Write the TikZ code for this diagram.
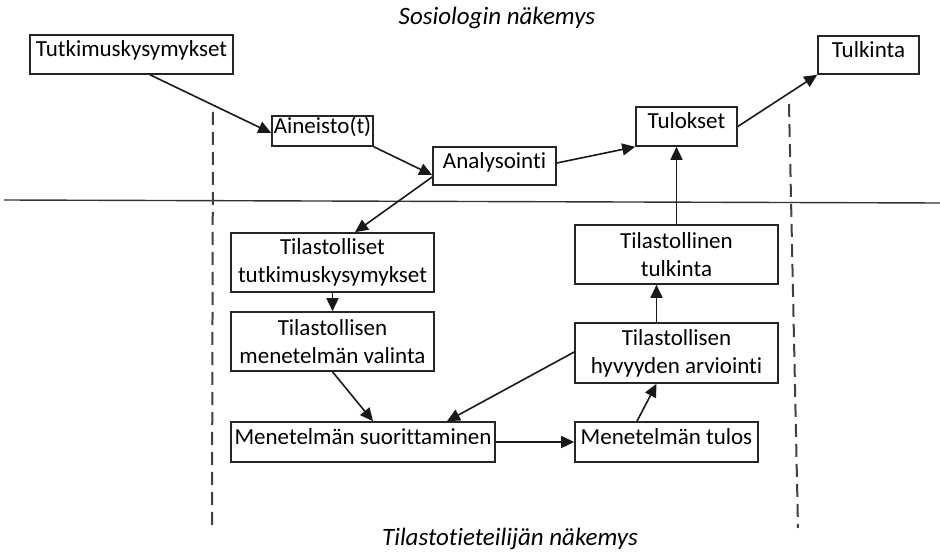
\documentclass[tikz,border=0pt]{standalone}
\usepackage{fontspec}
\setmainfont{Carlito}[Ligatures={NoCommon}]
\usetikzlibrary{arrows.meta,calc}
\begin{document}
\begin{tikzpicture}[x=1pt,y=-1pt,
  box/.style={draw=black!85, line width=1.6pt, inner sep=0pt, align=center,
    font=\fontsize{23}{28}\selectfont},
  oneline/.style={text height=13pt, text depth=8pt},
  link/.style={line width=1.6pt, draw=black!90,
    -{Triangle[length=13pt,width=12pt]}},
  divider/.style={line width=1.4pt, draw=black!80},
  viewline/.style={line width=2pt, draw=black!75, dash pattern=on 13pt off 7pt},
  heading/.style={font=\fontsize{25}{28}\selectfont\itshape}
]
\useasboundingbox (0,0) rectangle (940,553);

% viewpoint labels
\node[heading] (soc) at (497,18) {Sosiologin näkemys};
\node[heading] (stat) at (510,539) {Tilastotieteilijän näkemys};

% separators
\coordinate (hl) at (4,200);
\coordinate (hr) at (940,203);
\draw[divider] (hl) -- (hr);
\coordinate (dlt) at (213,112);
\coordinate (dlb) at (212,525);
\coordinate (drt) at (789,104);
\coordinate (drb) at (798,528);
\draw[viewline] (dlt) -- (dlb);
\draw[viewline] (drt) -- (drb);

% sociological process
\node[box, oneline, minimum width=203, minimum height=39] (tk)  at (131.5,54.5) {Tutkimuskysymykset};
\node[box, oneline, minimum width=101, minimum height=30] (ain) at (322.5,131) {Aineisto(t)};
\node[box, oneline, minimum width=123, minimum height=38] (ana) at (494.5,166) {Analysointi};
\node[box, oneline, minimum width=101, minimum height=39] (tul) at (686.5,126.5) {Tulokset};
\node[box, oneline, minimum width=101, minimum height=38] (tki) at (868.5,55) {Tulkinta};

% statistical process
\node[box, minimum width=203, minimum height=59] (ttk) at (332.5,262.5) {Tilastolliset\\tutkimuskysymykset};
\node[box, minimum width=203, minimum height=59] (val) at (332.5,341.5) {Tilastollisen\\menetelmän valinta};
\node[box, oneline, minimum width=264, minimum height=40] (suo) at (363,442) {Menetelmän suorittaminen};
\node[box, oneline, minimum width=183, minimum height=40] (tlo) at (666.5,442) {Menetelmän tulos};
\node[box, minimum width=203, minimum height=60] (hyv) at (676.5,353) {Tilastollisen\\hyvyyden arviointi};
\node[box, minimum width=203, minimum height=59] (ttu) at (676.5,254.5) {Tilastollinen\\tulkinta};

% connectors
\draw[link] ($(tk.south)+(18.5,0)$) -- ($(ain.west)+(0,2)$);
\draw[link] (ain.south east) -- ($(ana.west)+(0,9)$);
\draw[link] ($(ana.east)+(0,-3)$) -- (tul.south west);
\draw[link] (tul.east) -- (tki.south west);
\draw[link] ($(ana.west)+(0,11)$) -- ($(ttk.north)+(22.5,0)$);
\draw[link] (ttk.south) -- (val.north);
\draw[link] (val.south) -- ($(suo.north)+(10,0)$);
\draw[link] ($(hyv.west)+(0,-1)$) -- ($(suo.north)+(84,0)$);
\draw[link] (suo.east) -- (tlo.west);
\draw[link] ($(tlo.north)+(-29.5,0)$) -- ($(hyv.south)+(-20,0)$);
\draw[link] ($(hyv.north)+(-20,0)$) -- ($(ttu.south)+(-20,0)$);
\draw[link] (ttu.north) -- (ttu.north |- tul.south);
\end{tikzpicture}
\end{document}
